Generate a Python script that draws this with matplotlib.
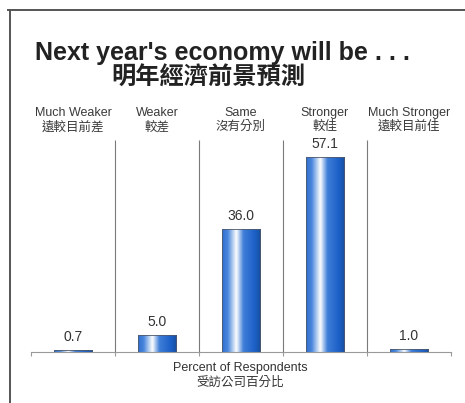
import numpy as np
import matplotlib
matplotlib.use("Agg")
import matplotlib.pyplot as plt
from matplotlib.colors import LinearSegmentedColormap
from matplotlib.lines import Line2D

plt.rcParams['font.family'] = ['Liberation Sans', 'Noto Sans CJK TC', 'DejaVu Sans']

# Survey data
categories_en = ["Much Weaker", "Weaker", "Same", "Stronger", "Much Stronger"]
categories_zh = ["遠較目前差", "較差", "沒有分別", "較佳", "遠較目前佳"]
percent = [0.7, 5.0, 36.0, 57.1, 1.0]
value_labels = ["0.7", "5.0", "36.0", "57.1", "1.0"]

title_en = "Next year's economy will be . . ."
title_zh = "明年經濟前景預測"
xlabel_en = "Percent of Respondents"
xlabel_zh = "受訪公司百分比"

W, H = 465, 403
fig = plt.figure(figsize=(W / 100, H / 100), dpi=100)
fig.patch.set_facecolor("white")

def fx(px):
    return px / W

def fy(py):
    return 1 - py / H

# Plot area: baseline at y=352px, top at y=140px, x from 31px to 451px
ax = fig.add_axes([fx(31), fy(352), fx(451) - fx(31), fy(140) - fy(352)])
n = len(categories_en)
x = np.arange(n)
ax.set_xlim(-0.5, n - 0.5)
ax.set_ylim(0, 62)

bars = ax.bar(x, percent, width=0.46, color="none", edgecolor="#505a6a",
              linewidth=0.6, zorder=3)

# Cylindrical shading for each bar
cmap = LinearSegmentedColormap.from_list(
    "cyl",
    [(0.0, "#2d6dd0"), (0.15, "#4a88dc"), (0.37, "#ffffff"),
     (0.55, "#3f7ed8"), (0.85, "#1c5fc6"), (1.0, "#164f9c")])
grad = np.linspace(0, 1, 256).reshape(1, -1)
for b in bars:
    x0, w, h = b.get_x(), b.get_width(), b.get_height()
    im = ax.imshow(grad, cmap=cmap, aspect="auto",
                   extent=(x0, x0 + w, 0, h), zorder=2,
                   interpolation="bicubic")
    im.set_clip_path(b)

# Value labels
for xi, v, lab in zip(x, percent, value_labels):
    ax.annotate(lab, (xi, v), xytext=(0, 4), textcoords="offset points",
                ha="center", va="bottom", fontsize=10, color="#333333")

# Category separators
ax.vlines(np.arange(n - 1) + 0.5, 0, 62, color="#7a7a7a", lw=0.8, zorder=1)
ax.set_xticks(np.arange(n + 1) - 0.5)
ax.set_xticklabels([])
ax.tick_params(axis="x", length=3, color="#9a9a9a", width=0.8)
ax.set_yticks([])
for s in ["top", "left", "right"]:
    ax.spines[s].set_visible(False)
ax.spines["bottom"].set_color("#9a9a9a")
ax.spines["bottom"].set_linewidth(0.8)
ax.set_xlim(-0.5, n - 0.5)

# Category headings above the columns
for xi, en, zh in zip(x, categories_en, categories_zh):
    px = 31 + (xi + 0.5) * (420 / n)
    fig.text(fx(px), fy(113), en, ha="center", va="center",
             fontsize=9, color="#3a3a3a")
    fig.text(fx(px), fy(127), zh, ha="center", va="center",
             fontsize=9, color="#3a3a3a")

# Titles
fig.text(fx(222), fy(53), title_en, ha="center", va="center",
         fontsize=18, fontweight="bold", color="#222222")
fig.text(fx(208), fy(78), title_zh, ha="center", va="center",
         fontsize=17.5, fontweight="bold", color="#222222")

# Axis caption
fig.text(fx(240), fy(368), xlabel_en, ha="center", va="center",
         fontsize=9, color="#333333")
fig.text(fx(240), fy(383), xlabel_zh, ha="center", va="center",
         fontsize=9, color="#333333")

# Outer frame (top and left edges)
fig.add_artist(Line2D([fx(8), 1.0], [fy(10), fy(10)], color="#555555", lw=1.4))
fig.add_artist(Line2D([fx(10), fx(10)], [fy(10), 0.0], color="#555555", lw=1.4))

fig.savefig("out.png", dpi=100, facecolor="white")
